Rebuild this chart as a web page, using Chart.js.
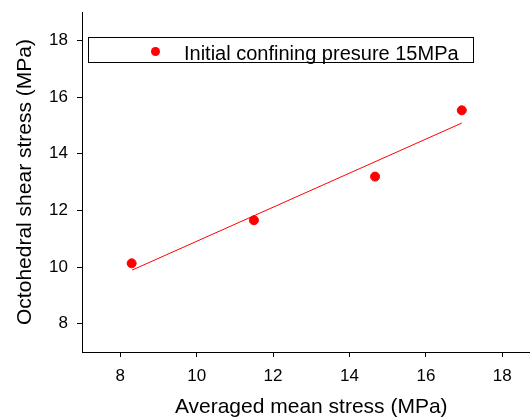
<!DOCTYPE html>
<html>
<head>
<meta charset="utf-8">
<script src="https://cdn.jsdelivr.net/npm/chart.js@4.4.0/dist/chart.umd.min.js"></script>
<style>
  html, body { margin: 0; padding: 0; background: #fff; overflow: hidden; }
  canvas { display: block; }
</style>
</head>
<body>
<!-- a bit wider than the window: the x axis runs off the right edge like the original -->
<canvas id="chart" width="546" height="420"></canvas>
<script>
// measured points
const meanStress = [8.30, 11.50, 14.67, 16.94];
const shearStress = [10.13, 11.65, 13.19, 15.53];
// linear fit line end points
const fitX = [8.31, 16.94];
const fitY = [9.89, 15.08];
const xTicks = [7, 8, 9, 10, 11, 12, 13, 14, 15, 16, 17, 18];
const yTicks = [7, 8, 9, 10, 11, 12, 13, 14, 15, 16, 17, 18, 19];
const seriesLabel = 'Initial confining presure 15MPa';

const FONT = 'Liberation Sans, Arial, sans-serif';
Chart.defaults.font.family = FONT;
Chart.defaults.color = '#000';

const isMajor = v => v % 2 === 0;

// short ticks at odd values
const minorTicks = {
  id: 'minorTicks',
  afterDraw(chart) {
    const ctx = chart.ctx;
    const xs = chart.scales.x, ys = chart.scales.y;
    ctx.save();
    ctx.strokeStyle = '#000';
    ctx.lineWidth = 1;
    ctx.beginPath();
    xs.ticks.forEach(t => {
      if (isMajor(t.value)) return;
      const px = Math.round(xs.getPixelForValue(t.value)) + 0.5;
      ctx.moveTo(px, xs.top);
      ctx.lineTo(px, xs.top + 3);
    });
    ys.ticks.forEach(t => {
      if (isMajor(t.value)) return;
      const py = Math.round(ys.getPixelForValue(t.value)) + 0.5;
      ctx.moveTo(ys.right, py);
      ctx.lineTo(ys.right - 3, py);
    });
    ctx.stroke();
    ctx.restore();
  }
};

// framed legend inside the plot
const legendBox = {
  id: 'legendBox',
  afterDraw(chart) {
    const ctx = chart.ctx;
    const ds = chart.data.datasets[0];
    ctx.save();
    ctx.strokeStyle = '#000';
    ctx.lineWidth = 1;
    ctx.strokeRect(88.5, 37.5, 385, 25);
    ctx.fillStyle = ds.backgroundColor;
    ctx.beginPath();
    ctx.arc(155.5, 51.5, 4.5, 0, Math.PI * 2);
    ctx.fill();
    ctx.fillStyle = '#000';
    ctx.font = '20px ' + FONT;
    ctx.textBaseline = 'alphabetic';
    ctx.fillText(ds.label, 184, 60);
    ctx.restore();
  }
};

const axisCommon = {
  type: 'linear',
  min: 7,
  max: 19,
  border: { display: true, color: '#000', width: 1 },
  grid: {
    drawOnChartArea: false,
    drawTicks: true,
    tickLength: 5,
    tickColor: c => (c.tick && isMajor(c.tick.value)) ? '#000' : 'rgba(0,0,0,0)'
  }
};

new Chart(document.getElementById('chart'), {
  type: 'scatter',
  data: {
    datasets: [
      {
        label: seriesLabel,
        data: meanStress.map((x, i) => ({ x: x, y: shearStress[i] })),
        backgroundColor: '#ff0000',
        borderColor: '#ff0000',
        pointRadius: 4.5,
        pointHoverRadius: 4.5
      },
      {
        label: 'fit',
        data: fitX.map((x, i) => ({ x: x, y: fitY[i] })),
        showLine: true,
        borderColor: '#ff0000',
        borderWidth: 1,
        pointRadius: 0,
        fill: false
      }
    ]
  },
  options: {
    responsive: false,
    animation: false,
    layout: { padding: { top: 12, left: 0, right: 0, bottom: 0 } },
    plugins: {
      legend: { display: false },
      tooltip: { enabled: false }
    },
    scales: {
      x: {
        ...axisCommon,
        position: 'bottom',
        afterBuildTicks: s => { s.ticks = xTicks.map(v => ({ value: v })); },
        afterFit: s => {
          s.height = 68;
          s.paddingLeft = 0;
          s.paddingRight = 0;
        },
        ticks: {
          autoSkip: false,
          maxRotation: 0,
          padding: 9,
          font: { size: 17 },
          callback: v => isMajor(v) ? v : null
        },
        title: {
          display: true,
          text: 'Averaged mean stress (MPa)',
          font: { size: 21 },
          padding: { top: 0, bottom: 0 }
        }
      },
      y: {
        ...axisCommon,
        position: 'left',
        afterBuildTicks: s => { s.ticks = yTicks.map(v => ({ value: v })); },
        afterFit: s => {
          s.width = 82;
          s.paddingTop = 0;
          s.paddingBottom = 0;
        },
        ticks: {
          autoSkip: false,
          padding: 9,
          font: { size: 17 },
          callback: v => isMajor(v) ? v : null
        },
        title: {
          display: true,
          text: 'Octohedral shear stress (MPa)',
          font: { size: 21 },
          padding: { top: 13, bottom: 0 }
        }
      }
    }
  },
  plugins: [minorTicks, legendBox]
});
</script>
</body>
</html>
